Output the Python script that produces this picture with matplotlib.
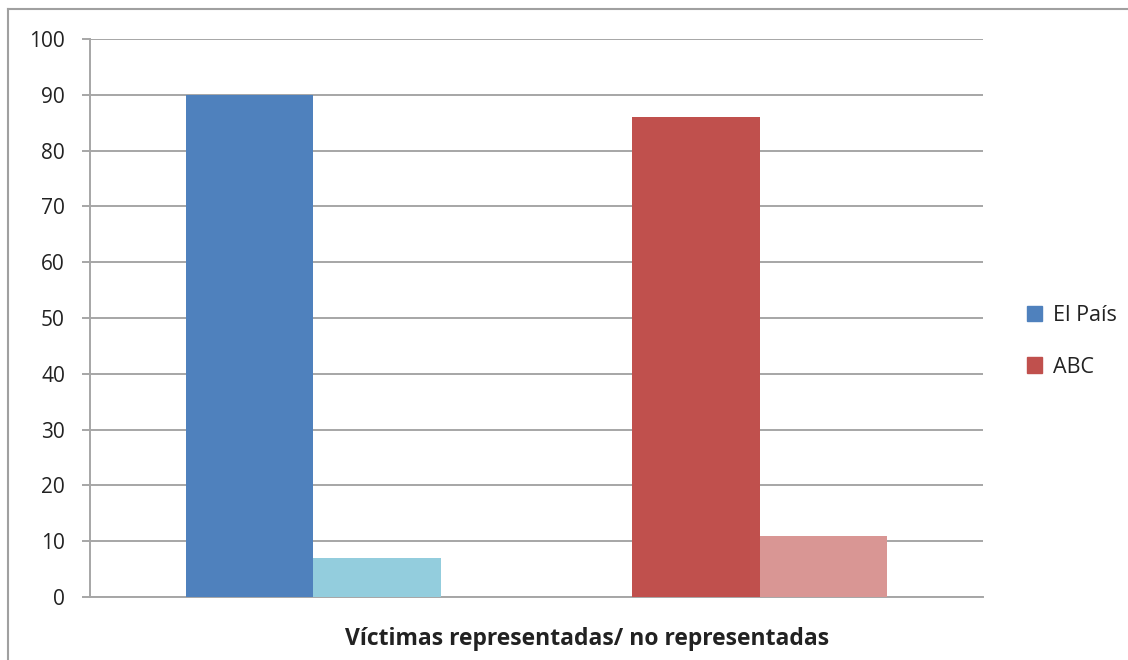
import numpy as np
import matplotlib.pyplot as plt
from matplotlib.patches import Patch
from matplotlib.lines import Line2D

# Datos
periodicos = ['El País', 'ABC']
representadas = [90, 86]
no_representadas = [7, 11]
colores_fuerte = ['#4F81BD', '#C0504D']
colores_suave = ['#93CDDD', '#D99694']

plt.rcParams['font.family'] = ['Open Sans', 'DejaVu Sans']

fig = plt.figure(figsize=(11.28, 6.60), dpi=100)
ax = fig.add_axes([90 / 1128, 1 - 597 / 660, 893 / 1128, 558 / 660])

x = np.arange(len(periodicos))
ancho = 1 / 3.5
ax.bar(x - ancho / 2, representadas, width=ancho, color=colores_fuerte, zorder=3)
ax.bar(x + ancho / 2, no_representadas, width=ancho, color=colores_suave, zorder=3)

ax.set_xlim(-0.5, 1.5)
ax.set_ylim(0, 100)
ax.set_yticks(range(0, 101, 10))
ax.set_xticks([])
ax.grid(axis='y', color='#a6a6a6', linewidth=1.4, zorder=0)
for lado in ['top', 'right']:
    ax.spines[lado].set_visible(False)
ax.spines['left'].set_color('#a6a6a6')
ax.spines['bottom'].set_color('#a6a6a6')
ax.spines['left'].set_linewidth(1.4)
ax.spines['bottom'].set_linewidth(1.4)
ax.tick_params(axis='y', length=6, width=1.4, color='#a6a6a6', labelsize=15,
               labelcolor='#222222', pad=12)

ax.set_xlabel('Víctimas representadas/ no representadas', fontsize=16.5,
              fontweight='bold', color='#222222')
ax.xaxis.set_label_coords(0.5566, -0.054)

handles = [Patch(color=c, label=p) for c, p in zip(colores_fuerte, periodicos)]
ax.legend(handles=handles, loc='center left', bbox_to_anchor=(1.04, 0.458),
          frameon=False, fontsize=15.5, handlelength=0.7, handleheight=0.7,
          handletextpad=0.5, labelspacing=1.4, labelcolor='#222222',
          borderaxespad=0)

# marco exterior del gráfico
x0, y0 = 8 / 1128, 1 - 9 / 660
fig.add_artist(Line2D([x0, x0], [0, y0], transform=fig.transFigure, color='#a0a0a0', lw=1.5))
fig.add_artist(Line2D([x0, 1], [y0, y0], transform=fig.transFigure, color='#a0a0a0', lw=1.5))

fig.savefig('out.png', dpi=100)
